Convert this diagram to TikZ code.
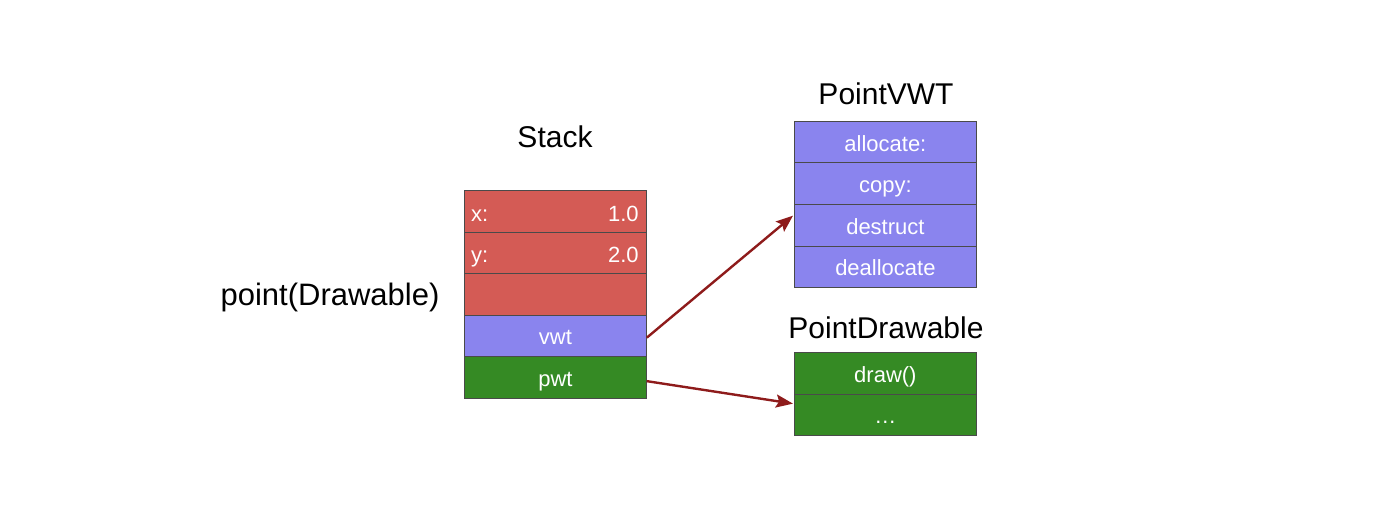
\documentclass[tikz,border=0pt]{standalone}
\usepackage{fontspec}
\setmainfont{Liberation Sans}
\usetikzlibrary{arrows.meta,calc}
\definecolor{cred}{HTML}{D45B55}
\definecolor{cblue}{HTML}{8A84EE}
\definecolor{cgreen}{HTML}{358A24}
\definecolor{carrow}{HTML}{8E1B1B}
\definecolor{cline}{HTML}{4A4A4A}
\begin{document}
\begin{tikzpicture}[x=1pt,y=-1pt,
  cell/.style={draw=cline,line width=0.8pt,minimum width=182pt,minimum height=41.5pt,
    anchor=north west,inner sep=0pt,text height=18pt,text depth=0pt,text=white,
    font=\fontsize{22}{26}\selectfont},
  redcell/.style={cell,fill=cred},
  bluecell/.style={cell,fill=cblue},
  greencell/.style={cell,fill=cgreen},
  celltext/.style={text=white,inner sep=0pt,text height=18pt,text depth=0pt,
    font=\fontsize{22}{26}\selectfont},
  title/.style={inner sep=0pt,font=\fontsize{30}{34}\selectfont},
  ptr/.style={draw=carrow,line width=2.4pt,-{Stealth[length=17pt,width=13pt,inset=3pt]}}
]
\useasboundingbox (0,0) rectangle (1390,524);
% Stack
\node[redcell] (x) at (464,190) {};
\node[redcell] (y) at (464,231.5) {};
\node[redcell] (e) at (464,273) {};
\node[bluecell] (vwt) at (464,314.5) {vwt};
\node[greencell] (pwt) at (464,356) {pwt};
\node[celltext,anchor=west] (xl) at ($(x.west)+(7,1)$) {x:};
\node[celltext,anchor=east] (xv) at ($(x.east)+(-8,1)$) {1.0};
\node[celltext,anchor=west] (yl) at ($(y.west)+(7,1)$) {y:};
\node[celltext,anchor=east] (yv) at ($(y.east)+(-8,1)$) {2.0};
\node[title] (stack) at (555,137) {Stack};
\node[title,font=\fontsize{31}{35}\selectfont] (point) at (330,297) {point(Drawable)};
% PointVWT
\node[title] (pvwt) at (886,94) {PointVWT};
\node[bluecell] (alloc) at (794,121) {allocate:};
\node[bluecell] (copy) at (794,162.5) {copy:};
\node[bluecell] (destruct) at (794,204) {destruct};
\node[bluecell] (dealloc) at (794,245.5) {deallocate};
% PointDrawable
\node[title] (pdraw) at (886,328) {PointDrawable};
\node[greencell] (draw) at (794,352) {draw()};
\node[greencell] (dots) at (794,393.5) {\ldots};
% arrows
\draw[ptr] ($(vwt.east)+(0,2)$) -- ($(destruct.west)+(-1,-9.5)$);
\draw[ptr] ($(pwt.east)+(0,4)$) -- ($(dots.west)+(-1,-11)$);
\end{tikzpicture}
\end{document}
